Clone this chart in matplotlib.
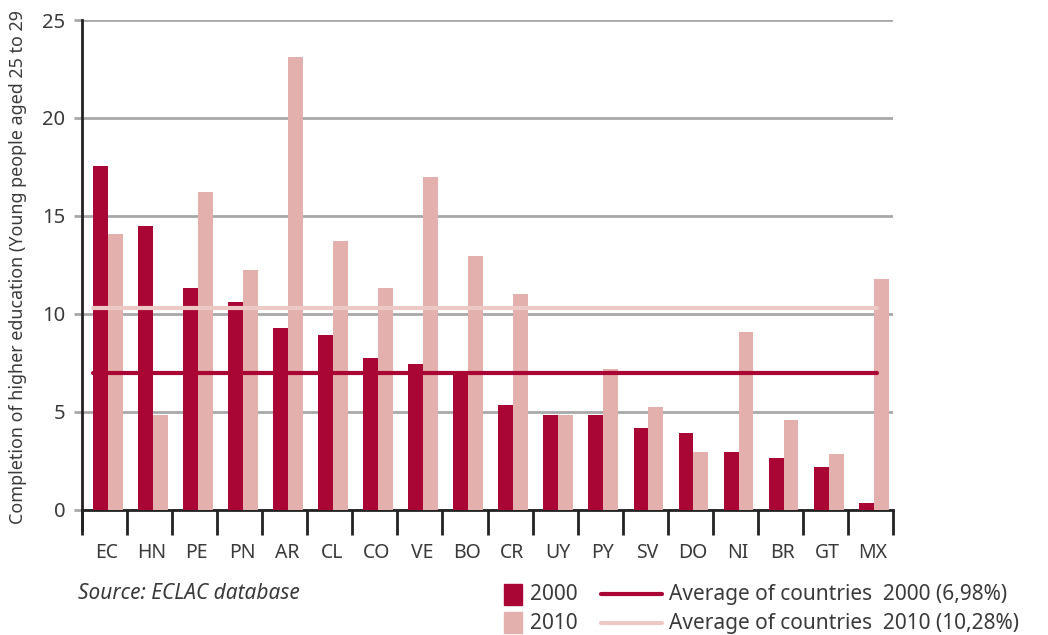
import numpy as np
import matplotlib
matplotlib.use('Agg')
import matplotlib.pyplot as plt
from matplotlib.patches import Rectangle
from matplotlib.lines import Line2D

plt.rcParams['font.family'] = ['Noto Sans', 'DejaVu Sans']

# data
countries = ['EC', 'HN', 'PE', 'PN', 'AR', 'CL', 'CO', 'VE', 'BO',
             'CR', 'UY', 'PY', 'SV', 'DO', 'NI', 'BR', 'GT', 'MX']
val_2000 = [17.55, 14.5, 11.33, 10.6, 9.29, 8.93, 7.76, 7.45, 6.94,
            5.36, 4.85, 4.85, 4.18, 3.93, 2.96, 2.65, 2.19, 0.36]
val_2010 = [14.08, 4.85, 16.22, 12.24, 23.1, 13.72, 11.33, 17.0, 12.96,
            11.02, 4.85, 7.19, 5.26, 2.96, 9.08, 4.6, 2.86, 11.79]
avg_2000 = 6.98
avg_2010 = 10.28

c2000 = '#A90636'
c2010 = '#E3B0AD'
c2010_line = '#EDC9C6'
txt = '#3a3a3a'

fig = plt.figure(figsize=(10.48, 6.35), dpi=100)
ax = fig.add_axes([0.0782, 0.197, 0.774, 0.7715])

x = np.arange(len(countries))
w = 0.33
off = 0.07
ax.bar(x + off - w / 2, val_2000, w, color=c2000, zorder=3)
ax.bar(x + off + w / 2, val_2010, w, color=c2010, zorder=3)

ax.plot([-0.5 + 0.25, len(countries) - 0.5 - 0.35], [avg_2010, avg_2010],
        color=c2010_line, lw=3, zorder=4, solid_capstyle='round')
ax.plot([-0.5 + 0.25, len(countries) - 0.5 - 0.35], [avg_2000, avg_2000],
        color=c2000, lw=3, zorder=4, solid_capstyle='round')

ax.set_xlim(-0.5, len(countries) - 0.5)
ax.set_ylim(0, 25)
ax.set_yticks([0, 5, 10, 15, 20, 25])
ax.yaxis.grid(True, color='#a8a8a8', lw=2, zorder=0)
ax.spines['top'].set_visible(False)
ax.spines['right'].set_visible(False)
ax.spines['left'].set_color('#222222')
ax.spines['bottom'].set_color('#222222')
ax.spines['left'].set_linewidth(2)
ax.spines['bottom'].set_linewidth(2)
ax.spines['left'].set_bounds(-1.0, 25)
ax.spines['left'].set_zorder(5)

ax.tick_params(axis='y', length=6, width=2, color='#a8a8a8', labelsize=14.5,
               labelcolor=txt, pad=6)
ax.get_yticklines()[0].set_color('#222222')

# category ticks on the group boundaries, labels at centres
ax.set_xticks(np.arange(len(countries) + 1) - 0.5)
ax.set_xticklabels([])
ax.tick_params(axis='x', which='major', length=18, width=2, color='#222222')
ax.set_xticks(x + 0.05, minor=True)
ax.set_xticklabels(countries, minor=True)
ax.tick_params(axis='x', which='minor', length=0, labelsize=14,
               labelcolor=txt, pad=24)

fig.text(0.017, 0.175, 'Completion of higher education (Young people aged 25 to 29',
         rotation=90, ha='center', va='bottom', fontsize=12.9, color=txt)

fig.text(0.074, 0.065, 'Source: ECLAC database', style='italic',
         fontsize=15, color=txt, ha='left', va='center')

# legend drawn by hand to match the two-column layout
fig.patches.append(Rectangle((0.481, 0.048), 0.017, 0.033,
                             transform=fig.transFigure, color=c2000))
fig.patches.append(Rectangle((0.481, 0.003), 0.017, 0.033,
                             transform=fig.transFigure, color=c2010))
fig.text(0.506, 0.064, '2000', fontsize=15, color=txt, va='center')
fig.text(0.506, 0.018, '2010', fontsize=15, color=txt, va='center')
fig.lines.append(Line2D([0.573, 0.632], [0.064, 0.064], transform=fig.transFigure,
                        color=c2000, lw=3, solid_capstyle='round'))
fig.lines.append(Line2D([0.573, 0.632], [0.019, 0.019], transform=fig.transFigure,
                        color=c2010_line, lw=3, solid_capstyle='round'))
fig.text(0.638, 0.064, 'Average of countries  2000 (6,98%)', fontsize=15,
         color=txt, va='center')
fig.text(0.638, 0.018, 'Average of countries  2010 (10,28%)', fontsize=15,
         color=txt, va='center')

fig.savefig('out.png', dpi=100)
